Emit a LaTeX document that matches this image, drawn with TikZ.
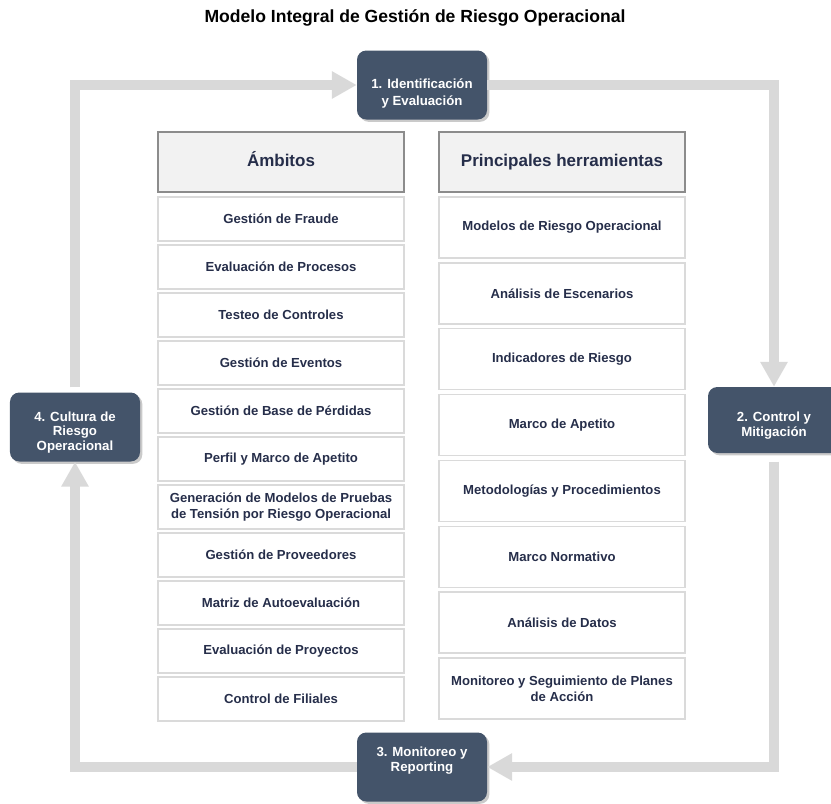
\documentclass[tikz,border=0pt]{standalone}
\usepackage{fontspec}
\setmainfont{Liberation Sans}
\usetikzlibrary{arrows.meta,shadows}

\definecolor{stagefill}{HTML}{44546A}
\definecolor{txtnavy}{HTML}{262E4A}
\definecolor{flowgray}{HTML}{D9D9D9}
\definecolor{rowline}{HTML}{DADADA}
\definecolor{headfill}{HTML}{F2F2F2}
\definecolor{headline}{HTML}{8C8C8C}

% strut pushing a stage text down
\newcommand{\stagedrop}[1]{\rule{0pt}{#1}}

\tikzset{
  stage/.style={rounded corners=8pt, fill=stagefill, text=white, align=center,
    minimum width=3.9cm, minimum height=2.07cm, inner sep=2pt,
    font=\fontsize{11.3}{13}\selectfont\bfseries,
    drop shadow={shadow xshift=2pt, shadow yshift=-2pt, opacity=0.35, fill=black!60}},
  headbox/.style={draw=headline, line width=1.2pt, fill=headfill, text=txtnavy,
    minimum width=7.38cm, minimum height=1.8cm, text height=1em, text depth=0.2em,
    font=\fontsize{14.5}{17}\selectfont\bfseries},
  rowbox/.style={draw=rowline, line width=1.2pt, fill=white, text=txtnavy,
    align=center, minimum width=7.38cm, inner sep=1pt,
    font=\fontsize{11.2}{13.4}\selectfont\bfseries},
  flow/.style={draw=flowgray, line width=8.5pt,
    -{Triangle[width=0.78cm,length=0.75cm]}}
}

\begin{document}
\begin{tikzpicture}[x=0.03cm,y=-0.03cm]
  \useasboundingbox (0,0) rectangle (831,803);
  \clip (0,0) rectangle (831,803);

  % title
  \node[font=\fontsize{15}{17}\selectfont\bfseries] (title) at (415,18)
    {Modelo Integral de Gestión de Riesgo Operacional};

  % column headers
  \node[headbox] (hamb) at (281,162) {Ámbitos};
  \node[headbox] (hherr) at (562,162) {Principales herramientas};

  % left column
  \foreach \txt [count=\i] in {Gestión de Fraude, Evaluación de Procesos,
      Testeo de Controles, Gestión de Eventos, Gestión de Base de Pérdidas,
      Perfil y Marco de Apetito,
      {Generación de Modelos de Pruebas\\de Tensión por Riesgo Operacional},
      Gestión de Proveedores, Matriz de Autoevaluación,
      Evaluación de Proyectos, Control de Filiales}
    \node[rowbox, minimum height=1.32cm] (amb\i) at (281,{219+48*(\i-1)}) {\txt};

  % right column
  \foreach \txt [count=\i] in {Modelos de Riesgo Operacional,
      Análisis de Escenarios, Indicadores de Riesgo, Marco de Apetito,
      Metodologías y Procedimientos, Marco Normativo, Análisis de Datos,
      {Monitoreo y Seguimiento de Planes\\de Acción}}
    \node[rowbox, minimum height=1.83cm] (herr\i) at (562,{227.5+65.86*(\i-1)}) {\txt};

  % cycle stages
  \node[stage, font=\fontsize{11.3}{14.2}\selectfont\bfseries] (s1) at (422,85)
    {\stagedrop{23pt}1. Identificación\\y Evaluación};
  \node[stage, minimum width=3.96cm, minimum height=1.98cm] (s2) at (774,420)
    {\stagedrop{18pt}2. Control y\\Mitigación};
  \node[stage] (s3) at (422,767) {3. Monitoreo y\\Reporting\\\mbox{}};
  \node[stage, font=\fontsize{11.3}{12.4}\selectfont\bfseries] (s4) at (75,427)
    {\stagedrop{17pt}4. Cultura de\\Riesgo\\Operacional};

  % cycle arrows
  \draw[flow, shorten <=0.15cm] (s4.north) |- (s1.west);
  \draw[flow] (s1.east) -| (s2.north);
  \draw[flow, shorten <=0.25cm] (s2.south) |- (s3.east);
  \draw[flow] (s3.west) -| (s4.south);
\end{tikzpicture}
\end{document}
